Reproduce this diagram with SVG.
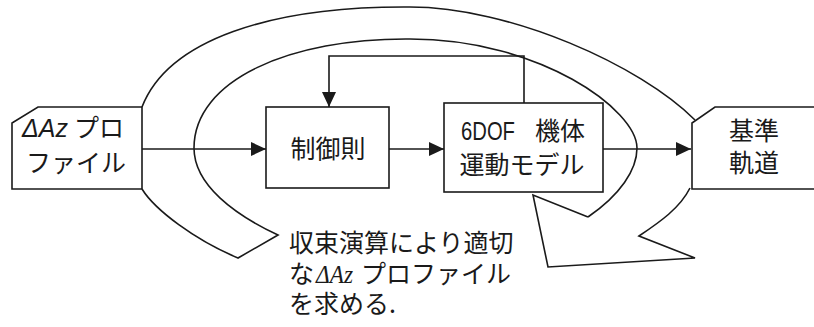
<svg xmlns="http://www.w3.org/2000/svg" width="814" height="327" viewBox="0 0 814 327">
<defs>
<style>
.ln{fill:none;stroke:#1a1a1a;stroke-width:1.6;stroke-linejoin:miter}
.nd{fill:#fff;stroke:#1a1a1a;stroke-width:1.6}
.t{font-family:"Noto Sans CJK JP","Noto Sans",sans-serif;font-size:25px;fill:#1a1a1a}
.tl{font-family:"Liberation Sans",Arial,sans-serif}
.ti{font-family:"Liberation Serif","Times New Roman",serif;font-style:italic}
</style>
<marker id="ah" markerWidth="15" markerHeight="14" refX="15" refY="7" orient="auto" markerUnits="userSpaceOnUse">
<path d="M0,0 L15,7 L0,14 z" fill="#1a1a1a"/>
</marker>
</defs>
<rect width="814" height="327" fill="#fff"/>
<g id="loop">
<path class="ln" d="M142,107 C168,40 270,6 410,7 C510,7 640,65 695,120"/>
<path class="ln" d="M588,217 C620,195 637,170 637,148 C637,110 540,39 410,39 C290,38 194,80 194,148 C194,185 235,215 278,235 L238,258 C195,240 155,210 142,189"/>
<path class="ln" d="M690,188 C680,208 660,222 639,236 L695,258 L548,267 L533,195 L588,217"/>
</g>
<g id="connectors">
<path class="ln" d="M142,149 L266,149" marker-end="url(#ah)"/>
<path class="ln" d="M389,149 L444,149" marker-end="url(#ah)"/>
<path class="ln" d="M603,149 L691,149" marker-end="url(#ah)"/>
<path class="ln" d="M524,103 L524,56 L329,56 L329,107" marker-end="url(#ah)"/>
</g>
<g id="profile">
<path class="nd" d="M38,107 L142,107 L142,189 L12,189 L12,123 Z"/>
<text class="t tl" x="22" y="137" font-size="22" font-style="italic" textLength="46" lengthAdjust="spacingAndGlyphs">ΔAz</text>
<text class="t" x="74" y="137" font-size="22">プロ</text>
<text class="t" x="26" y="172" font-size="22">ファイル</text>
</g>
<g id="control">
<rect class="nd" x="266" y="107" width="123" height="81"/>
<text class="t" x="328" y="158" text-anchor="middle" font-size="26">制御則</text>
</g>
<g id="model">
<rect class="nd" x="444" y="103" width="159" height="89"/>
<text class="t tl" x="461" y="140" font-size="23" textLength="54" lengthAdjust="spacingAndGlyphs">6DOF</text>
<text class="t" x="535" y="140">機体</text>
<text class="t" x="522" y="174" text-anchor="middle">運動モデル</text>
</g>
<g id="reference">
<path class="nd" d="M715,107 L820,107 L820,189 L692,189 L692,123 Z"/>
<text class="t" x="754" y="140" text-anchor="middle" font-size="26">基準</text>
<text class="t" x="754" y="172" text-anchor="middle" font-size="26">軌道</text>
</g>
<g id="caption">
<text class="t" x="289" y="252" font-size="26">収束演算により適切</text>
<text class="t" x="289" y="283" font-size="26">な</text>
<text class="t ti" x="316" y="283" font-size="26" textLength="37" lengthAdjust="spacingAndGlyphs">ΔAz</text>
<text class="t" x="361" y="283" font-size="26">プロファイル</text>
<text class="t" x="289" y="313" font-size="26">を求める.</text>
</g>
</svg>
